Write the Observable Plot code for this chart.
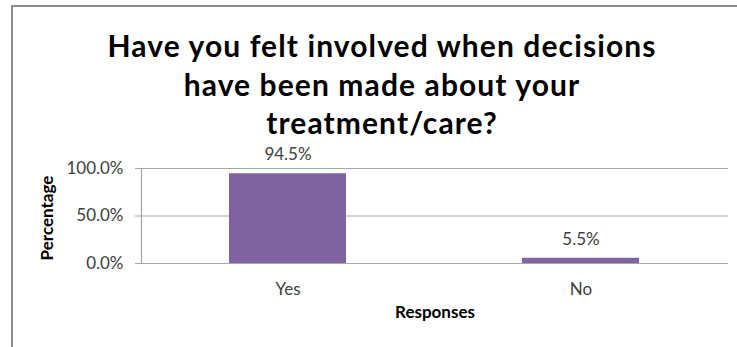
<!DOCTYPE html>
<html>
<head>
<meta charset="utf-8">
<script src="https://cdn.jsdelivr.net/npm/d3@7"></script>
<script src="https://cdn.jsdelivr.net/npm/@observablehq/plot@0.6"></script>
<style>
  html, body { margin: 0; padding: 0; background: #fff; }
  #wrap { position: relative; width: 737px; height: 347px; overflow: hidden; font-family: Lato, "Open Sans", sans-serif; }
  #border { position: absolute; left: 11px; top: 5px; width: 760px; height: 380px; border: 2px solid #8c8c8c; box-sizing: border-box; }
  #title { position: absolute; left: 32px; width: 700px; top: 26px; text-align: center; font-weight: bold; font-size: 30px; letter-spacing: 1.1px; line-height: 38.5px; color: #000; }
  #chart { position: absolute; left: 0; top: 140px; }
</style>
</head>
<body>
<div id="wrap">
  <div id="border"></div>
  <div id="title">Have you felt involved when decisions<br>have been made about your<br>treatment/care?</div>
  <div id="chart"></div>
</div>
<script>
const categories = ["Yes", "No"];
const percentages = [94.5, 5.5];
const yTicks = [0, 0.5, 1.0];
const yLabel = "Percentage";
const xLabel = "Responses";

const data = categories.map((c, i) => ({ response: c, value: percentages[i] / 100 }));
const fmt = d3.format(".1%");

const plot = Plot.plot({
  width: 737,
  height: 207,
  marginLeft: 141,
  marginRight: 9,
  marginTop: 28,
  marginBottom: 84,
  style: { fontFamily: "Lato, 'Open Sans', sans-serif", fontSize: "17px", color: "#404040", background: "transparent", overflow: "visible" },
  x: { domain: categories, paddingInner: 0.6, paddingOuter: 0.3, label: null },
  y: { domain: [0, 1], ticks: yTicks, tickFormat: fmt, label: null },
  marks: [
    Plot.ruleY(yTicks, { stroke: "#a6a6a6", strokeWidth: 1.2 }),
    Plot.frame({ anchor: "left", stroke: "#a6a6a6", strokeWidth: 1.2 }),
    Plot.barY(data, { x: "response", y: "value", fill: "#8064A2" }),
    Plot.text(data, { x: "response", y: "value", text: d => fmt(d.value), dy: -19, fill: "#404040", fontSize: 17 }),
    Plot.axisY({ ticks: yTicks, tickFormat: fmt, tickSize: 6, tickPadding: 12, stroke: "#a6a6a6", fill: "#404040", fontSize: 17, label: null }),
    Plot.axisX({ tickSize: 0, tickPadding: 19, fill: "#404040", fontSize: 17, label: null }),
    Plot.text([xLabel], { frameAnchor: "bottom", dy: 54, text: d => d, fontWeight: "bold", fontSize: 17, fill: "#000" }),
    Plot.text([yLabel], { frameAnchor: "left", textAnchor: "middle", dx: -94, dy: 2, rotate: -90, text: d => d, fontWeight: "bold", fontSize: 17, fill: "#000" })
  ]
});
document.getElementById("chart").appendChild(plot);
</script>
</body>
</html>
